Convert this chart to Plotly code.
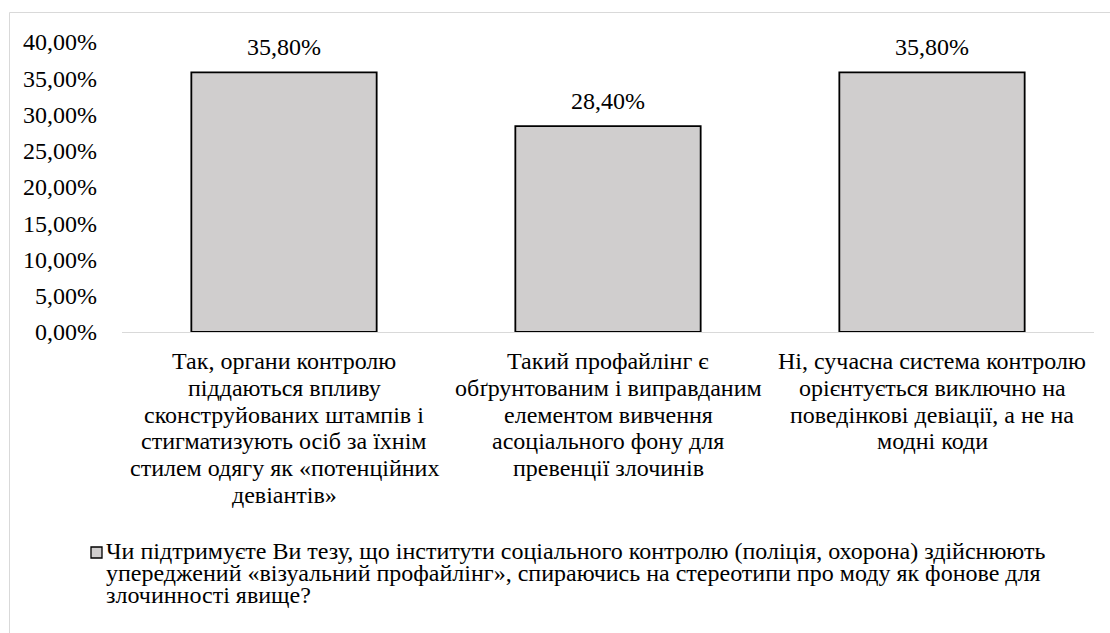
import plotly.graph_objects as go

# ---- data -------------------------------------------------------------
category_lines = [
    ["Так, органи контролю", "піддаються впливу", "сконструйованих штампів і",
     "стигматизують осіб за їхнім", "стилем одягу як «потенційних", "девіантів»"],
    ["Такий профайлінг є", "обґрунтованим і виправданим", "елементом вивчення",
     "асоціального фону для", "превенції злочинів"],
    ["Ні, сучасна система контролю", "орієнтується виключно на",
     "поведінкові девіації, а не на", "модні коди"],
]
categories = [" ".join(lines) for lines in category_lines]
values = [0.358, 0.284, 0.358]
series_name_lines = [
    "Чи підтримуєте Ви тезу, що інститути соціального контролю (поліція, охорона) здійснюють",
    "упереджений «візуальний профайлінг», спираючись на стереотипи про моду як фонове для",
    "злочинності явище?",
]
y_ticks = [0, 0.05, 0.10, 0.15, 0.20, 0.25, 0.30, 0.35, 0.40]

# ---- layout constants -------------------------------------------------
W, H = 1110, 633
L, R, T, B = 122, 16, 42, 301
PW, PH = W - L - R, H - T - B
FONT = "Liberation Serif"
FS = 24
BAR_FILL = "#d0cece"
TXT = dict(family=FONT, size=FS, color="black")


def px2x(px):
    return (px - L) / PW


def py2y(py):
    return (H - B - py) / PH


def fmt(v):
    return f"{v * 100:.2f}%".replace(".", ",")


fig = go.Figure()
fig.add_trace(go.Bar(
    x=categories,
    y=values,
    marker=dict(color=BAR_FILL, line=dict(color="#000000", width=1.8)),
    name=" ".join(series_name_lines),
    showlegend=False,
    hoverinfo="skip",
))

annotations = []
# data labels
for c, v in zip(categories, values):
    annotations.append(dict(
        x=c, y=v, xref="x", yref="y", text=fmt(v), showarrow=False,
        yanchor="middle", yshift=25, font=TXT,
    ))

# category labels (one annotation per line for Excel-like line spacing)
cat_first_center, cat_step = 361, 26.8
for c, lines in zip(categories, category_lines):
    for j, line in enumerate(lines):
        annotations.append(dict(
            x=c, y=py2y(cat_first_center + j * cat_step), xref="x", yref="paper",
            text=line, showarrow=False, xanchor="center", yanchor="middle",
            borderpad=0, font=TXT,
        ))

# legend text
leg_first_center, leg_step = 551, 22
for j, line in enumerate(series_name_lines):
    annotations.append(dict(
        x=px2x(105), y=py2y(leg_first_center + j * leg_step), xref="paper", yref="paper",
        text=line, showarrow=False, xanchor="left", yanchor="middle",
        borderpad=0, font=TXT,
    ))

shapes = [
    # chart-area border
    dict(type="rect", xref="paper", yref="paper",
         x0=px2x(9.5), x1=px2x(1120), y0=py2y(645), y1=py2y(12.5),
         line=dict(color="#d9d9d9", width=1), fillcolor="rgba(0,0,0,0)", layer="below"),
    # legend key
    dict(type="rect", xref="paper", yref="paper",
         x0=px2x(91), x1=px2x(102), y0=py2y(558), y1=py2y(547),
         line=dict(color="#000000", width=1.3), fillcolor=BAR_FILL),
]

fig.update_layout(
    width=W, height=H,
    margin=dict(l=L, r=R, t=T, b=B, pad=0),
    paper_bgcolor="white", plot_bgcolor="white",
    bargap=0.428,
    showlegend=False,
    annotations=annotations,
    shapes=shapes,
    xaxis=dict(
        type="category", categoryorder="array", categoryarray=categories,
        showticklabels=False,
        showline=True, linecolor="#d9d9d9", linewidth=1.3,
        showgrid=False, zeroline=False, ticks="",
    ),
    yaxis=dict(
        range=[0, 0.40], tickmode="array", tickvals=y_ticks,
        ticktext=[fmt(t) for t in y_ticks],
        showgrid=False, zeroline=False, showline=False,
        ticks="", ticklabelstandoff=24,
        tickfont=TXT,
    ),
)

fig.write_html("out.html", config={"displayModeBar": False},
               post_script="document.body.style.margin='0';document.body.style.overflow='hidden';")
